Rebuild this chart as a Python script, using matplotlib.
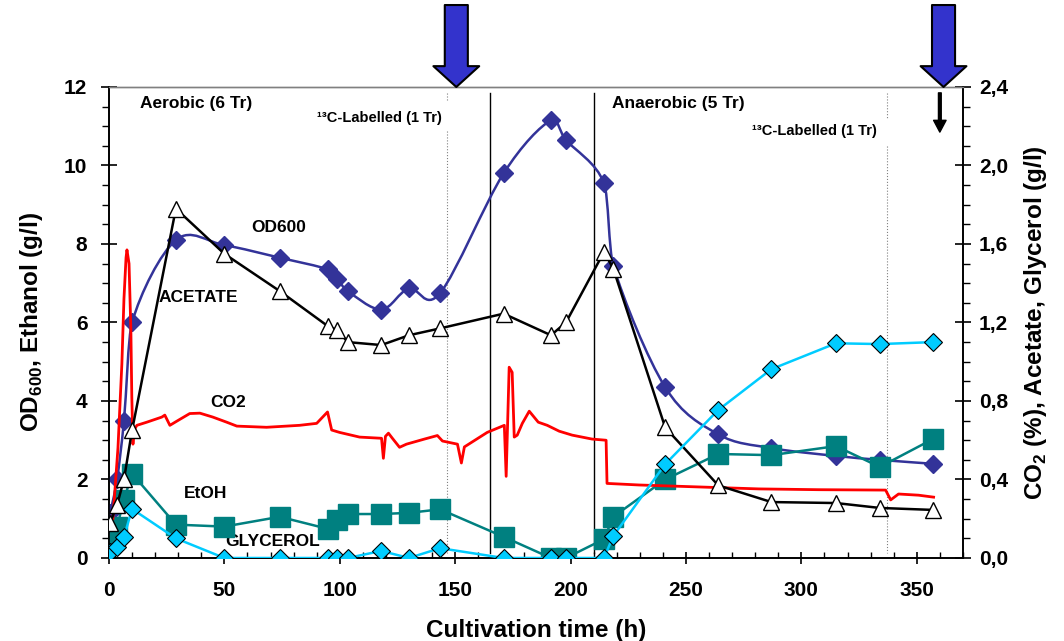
import matplotlib
matplotlib.use("Agg")
import matplotlib.pyplot as plt
import numpy as np
from matplotlib.path import Path
from matplotlib.patches import PathPatch
from matplotlib.ticker import MultipleLocator, FuncFormatter

plt.rcParams['font.family'] = ['Liberation Sans', 'DejaVu Sans']
plt.rcParams['font.weight'] = 'bold'
plt.rcParams['mathtext.fontset'] = 'custom'
plt.rcParams['mathtext.rm'] = 'Liberation Sans:bold'
plt.rcParams['mathtext.bf'] = 'Liberation Sans:bold'

# offline samples (h)
t = [0.5, 3.5, 6.5, 10, 29, 50, 74, 95, 99, 103.5, 118, 130, 143.5,
     171, 191.5, 198, 214.5, 218.5, 241, 264, 287, 315, 334, 357]
od600 = [1.15, 2.0, 3.5, 6.0, 8.1, 7.97, 7.65, 7.35, 7.1, 6.8, 6.33, 6.87, 6.75,
         9.8, 11.15, 10.65, 9.55, 7.45, 4.35, 3.15, 2.8, 2.6, 2.5, 2.4]
ethanol = [0.38, 0.8, 1.48, 2.15, 0.85, 0.8, 1.05, 0.74, 0.97, 1.12, 1.12, 1.15, 1.24,
           0.54, 0, 0, 0.48, 1.05, 2.0, 2.65, 2.62, 2.85, 2.32, 3.03]
# right axis (g/l)
acetate = [0.18, 0.27, 0.40, 0.65, 1.78, 1.55, 1.36, 1.18, 1.16, 1.10, 1.085, 1.135, 1.17,
           1.245, 1.135, 1.2, 1.56, 1.475, 0.665, 0.37, 0.285, 0.28, 0.255, 0.245]
glycerol = [0.03, 0.056, 0.106, 0.25, 0.10, 0, 0, 0, 0, 0, 0.036, 0, 0.05,
            0, 0, 0, 0, 0.112, 0.478, 0.754, 0.962, 1.094, 1.09, 1.10]

# online CO2 (%)
co2_t = [1.7, 3.9, 5.6, 6.5, 7.4, 7.8, 8.7, 9.5, 9.9, 10.4, 10.8, 12.1,
         16.4, 22.9, 24.2, 26.4, 29.8, 35.0, 39.4, 45.0, 51.0, 55.4, 68.3, 82.6,
         90.0, 94.7, 96.5, 99.9, 108.6, 118.1, 118.9, 119.8, 121.1, 122.8, 125.9, 128.9,
         136.7, 142.3, 144.5, 151.0, 152.7, 154.0, 163.9, 171.3, 172.1, 173.4, 174.7, 175.6,
         176.9, 179.1, 182.1, 186.0, 189.9, 195.1, 200.7, 209.3, 215.4, 215.8, 229.7, 255.6,
         281.6, 307.5, 336.5, 338.7, 342.1, 350.8, 357.3]
co2 = [0.20, 0.56, 0.99, 1.32, 1.53, 1.57, 1.50, 1.16, 0.82, 0.58, 0.65, 0.676,
       0.692, 0.718, 0.728, 0.676, 0.70, 0.736, 0.738, 0.718, 0.692, 0.672, 0.666, 0.676,
       0.686, 0.744, 0.652, 0.64, 0.616, 0.61, 0.508, 0.62, 0.636, 0.61, 0.564, 0.58,
       0.606, 0.624, 0.596, 0.58, 0.484, 0.566, 0.64, 0.676, 0.416, 0.972, 0.946, 0.616,
       0.626, 0.686, 0.748, 0.692, 0.676, 0.646, 0.626, 0.606, 0.60, 0.38, 0.372, 0.362,
       0.352, 0.348, 0.346, 0.296, 0.326, 0.32, 0.31]

phase_lines = [165.2, 210]
labelled_lines = [146.6, 337]
arrow_times = [150.5, 361.6]

BLUE = '#333399'
TEAL = '#008080'
CYAN = '#00CCFF'


def smooth_path(x, y):
    # excel-like smoothed line (catmull-rom bezier, tangents clamped)
    x = np.asarray(x, float)
    y = np.asarray(y, float)
    n = len(x)
    verts = [(x[0], y[0])]
    codes = [Path.MOVETO]
    for i in range(n - 1):
        i0 = max(i - 1, 0)
        i3 = min(i + 2, n - 1)
        dx = x[i + 1] - x[i]
        m1 = np.array([x[i + 1] - x[i0], y[i + 1] - y[i0]]) / 6
        m2 = np.array([x[i3] - x[i], y[i3] - y[i]]) / 6
        if m1[0] > dx / 2:
            m1 = m1 * (dx / 2) / m1[0]
        if m2[0] > dx / 2:
            m2 = m2 * (dx / 2) / m2[0]
        verts += [(x[i] + m1[0], y[i] + m1[1]),
                  (x[i + 1] - m2[0], y[i + 1] - m2[1]),
                  (x[i + 1], y[i + 1])]
        codes += [Path.CURVE4] * 3
    return Path(verts, codes)


fig = plt.figure(figsize=(10.64, 6.41), dpi=100)
ax = fig.add_axes([0.1024, 0.1295, 0.8026, 0.7348])
ax2 = ax.twinx()

ax.set_xlim(0, 370)
ax.set_ylim(0, 12)
ax2.set_ylim(0, 2.4)

# phase boundaries
for xv in phase_lines:
    ax.plot([xv, xv], [0.13, 11.85], color='black', lw=1, zorder=1)
ax.plot([labelled_lines[0]] * 2, [11.85, 11.65], color='gray', lw=0.8, ls=':', zorder=1)
ax.plot([labelled_lines[0]] * 2, [10.88, 0.13], color='gray', lw=0.8, ls=':', zorder=1)
ax.plot([labelled_lines[1]] * 2, [11.85, 11.19], color='gray', lw=0.8, ls=':', zorder=1)
ax.plot([labelled_lines[1]] * 2, [10.5, 0.13], color='gray', lw=0.8, ls=':', zorder=1)

# left axis series
ax.add_patch(PathPatch(smooth_path(t, od600), fc='none', ec=BLUE, lw=1.8, zorder=2))
ax.plot(t, od600, ls='none', marker='D', ms=9, color=BLUE, mec=BLUE, zorder=3)
ax.plot(t, ethanol, color=TEAL, lw=1.8, marker='s', ms=14, mec=TEAL, zorder=4)

# right axis series
ax2.plot(co2_t, co2, color='red', lw=2, zorder=2)
ax2.plot(t, acetate, color='black', lw=1.8, marker='^', ms=11, mfc='white', mec='black',
         mew=1, zorder=3)
ax2.plot(t, glycerol, color=CYAN, lw=1.8, marker='D', ms=9, mfc=CYAN, mec='black',
         mew=0.8, zorder=4)

# text labels
ax.text(13.4, 11.57, 'Aerobic (6 Tr)', fontsize=12.5, fontweight='bold', va='center')
ax.text(90, 11.21, '¹³C-Labelled (1 Tr)', fontsize=10.5, fontweight='bold', va='center')
ax.text(218, 11.57, 'Anaerobic (5 Tr)', fontsize=12.5, fontweight='bold', va='center')
ax.text(278.5, 10.88, '¹³C-Labelled (1 Tr)', fontsize=10.5, fontweight='bold', va='center')
ax.text(61.8, 8.42, 'OD600', fontsize=12.5, fontweight='bold', va='center')
ax.text(21.6, 6.64, 'ACETATE', fontsize=12.5, fontweight='bold', va='center')
ax.text(43.7, 3.97, 'CO2', fontsize=12.5, fontweight='bold', va='center')
ax.text(32.4, 1.65, 'EtOH', fontsize=12.5, fontweight='bold', va='center')
ax.text(50.6, 0.43, 'GLYCEROL', fontsize=12.5, fontweight='bold', va='center')

# sampling arrows
for xa in arrow_times:
    ax2.annotate('', xy=(xa, 1.0), xycoords=('data', 'axes fraction'),
                 xytext=(xa, 1.174), textcoords=('data', 'axes fraction'),
                 annotation_clip=False,
                 arrowprops=dict(arrowstyle='simple,head_length=1.5,head_width=3.3,tail_width=1.66',
                                 mutation_scale=10, fc='#3333CC', ec='black', lw=1.5,
                                 shrinkA=0, shrinkB=0))
ax2.annotate('', xy=(360, 2.17), xytext=(360, 2.37),
             arrowprops=dict(arrowstyle='simple,head_length=0.85,head_width=0.9,tail_width=0.2',
                             mutation_scale=10, fc='black', ec='black',
                             shrinkA=0, shrinkB=0))

# axes styling
for a in (ax, ax2):
    a.spines['top'].set_color('gray')
    a.spines['top'].set_linewidth(1)
    a.spines['left'].set_linewidth(1.2)
    a.spines['right'].set_linewidth(1.2)
    a.spines['bottom'].set_linewidth(1.2)

ax.xaxis.set_major_locator(MultipleLocator(50))
ax.xaxis.set_minor_locator(MultipleLocator(10))
ax.yaxis.set_major_locator(MultipleLocator(2))
ax.yaxis.set_minor_locator(MultipleLocator(0.5))
ax2.yaxis.set_major_locator(MultipleLocator(0.4))
ax2.yaxis.set_minor_locator(MultipleLocator(0.1))
ax2.yaxis.set_major_formatter(FuncFormatter(lambda v, p: f'{v:.1f}'.replace('.', ',')))

ax.tick_params(axis='x', which='major', direction='inout', length=9, width=1.2,
               labelsize=15, pad=12)
ax.tick_params(axis='x', which='minor', direction='in', length=4, width=1)
ax.tick_params(axis='y', which='major', direction='inout', length=11, width=1.2,
               labelsize=15, pad=10)
ax.tick_params(axis='y', which='minor', direction='out', length=5, width=1)
ax2.tick_params(axis='y', which='major', direction='inout', length=11, width=1.2,
                labelsize=15, pad=6)
ax2.tick_params(axis='y', which='minor', direction='out', length=5, width=1)
for lab in ax.get_xticklabels() + ax.get_yticklabels() + ax2.get_yticklabels():
    lab.set_fontweight('bold')

ax.set_xlabel('Cultivation time (h)', fontsize=17.5, fontweight='bold', labelpad=14)
ax.set_ylabel(r'OD$_{600}$, Ethanol (g/l)', fontsize=17.5, fontweight='bold', labelpad=14)
ax2.set_ylabel(r'CO$_{2}$ (%), Acetate, Glycerol (g/l)', fontsize=17.5, fontweight='bold',
               labelpad=10)

fig.savefig('out.png', dpi=100, facecolor='white')
